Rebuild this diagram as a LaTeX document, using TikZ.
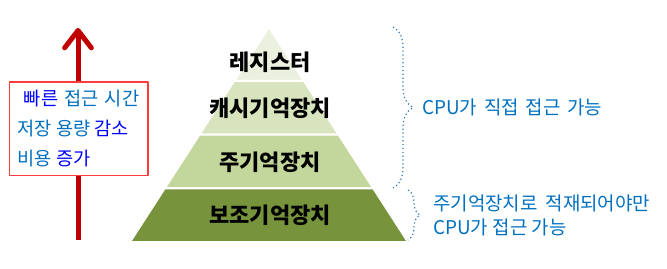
\documentclass[tikz,border=0pt]{standalone}
\usepackage{fontspec}
\usepackage{tikz}
\usetikzlibrary{arrows.meta, positioning, calc, decorations.pathreplacing}
\newfontfamily\kr{Noto Sans CJK KR}
\newcommand\widesp[1]{\spaceskip=#1em\relax}
\definecolor{lvA}{HTML}{EBF1DE}
\definecolor{lvB}{HTML}{D7E4BD}
\definecolor{lvC}{HTML}{C3D69B}
\definecolor{lvD}{HTML}{77933C}
\definecolor{txtblue}{HTML}{0070C0}
\definecolor{purblue}{HTML}{0000FF}
\definecolor{arrred}{HTML}{C00000}
\definecolor{boxred}{HTML}{FF3B3B}
\definecolor{bracecol}{HTML}{2E75B6}

\begin{document}
\begin{tikzpicture}[x=0.75pt, y=-0.75pt, line join=round,
  tier/.style={draw=white, line width=1.5pt},
  tiertext/.style={font=\kr\bfseries\fontsize{16.5}{18}\selectfont, text=black},
  note/.style={font=\kr\fontsize{14.2}{18}\selectfont, text=txtblue,
    align=left, anchor=west, inner sep=0pt},
  curly/.style={decorate, decoration={brace, amplitude=#1}, bracecol, dotted, line width=0.9pt}]
  \useasboundingbox (0,0) rectangle (667,268);
  % Pyramide
  \coordinate (apex) at (269,27);
  \coordinate (baseL) at (130,242);
  \coordinate (baseR) at (408,242);
  \foreach \t/\b/\c in {0/0.25/lvA, 0.25/0.5/lvB, 0.5/0.75/lvC, 0.75/1/lvD}
    \filldraw[tier, fill=\c] ($(apex)!\t!(baseL)$) -- ($(apex)!\b!(baseL)$)
      -- ($(apex)!\b!(baseR)$) -- ($(apex)!\t!(baseR)$) -- cycle;
  \node[tiertext] (reg) at (270,62) {레지스터};
  \node[tiertext] (cache) at (270,108) {캐시기억장치};
  \node[tiertext] (main) at (270,162) {주기억장치};
  \node[tiertext] (aux) at (270,215) {보조기억장치};
  % Pfeil nach oben
  \coordinate (arrlow) at (78,240);
  \coordinate (arrtop) at (78,28);
  \draw[arrred, line width=3.75pt, -{Straight Barb[round, length=13pt, width=20pt]}] (arrlow) -- (arrtop);
  \node[draw=boxred, fill=white, line width=1pt, minimum width=104pt, minimum height=70pt,
    align=left, font=\kr\fontsize{14}{22.5}\selectfont, text=txtblue] (merit) at (78.5,128.5)
    {\widesp{0.33}\ {\color{purblue}빠른} 접근 시간\\저장 용량 {\color{purblue}감소}\\비용 {\color{purblue}증가}};
  % Klammern
  \coordinate (brA1) at (393,27);
  \coordinate (brA2) at (393,188);
  \draw[curly=15pt] (brA1) -- (brA2);
  \coordinate (brB1) at (408,190);
  \coordinate (brB2) at (408,240);
  \draw[curly=9pt] (brB1) -- (brB2);
  \node[note] (direct) at (422,107) {\widesp{0.36}CPU가 직접 접근 가능};
  \node[note] (loaded) at (433,215) {\widesp{0.42}주기억장치로 적재되어야만\\CPU가 접근 가능};
\end{tikzpicture}
\end{document}
